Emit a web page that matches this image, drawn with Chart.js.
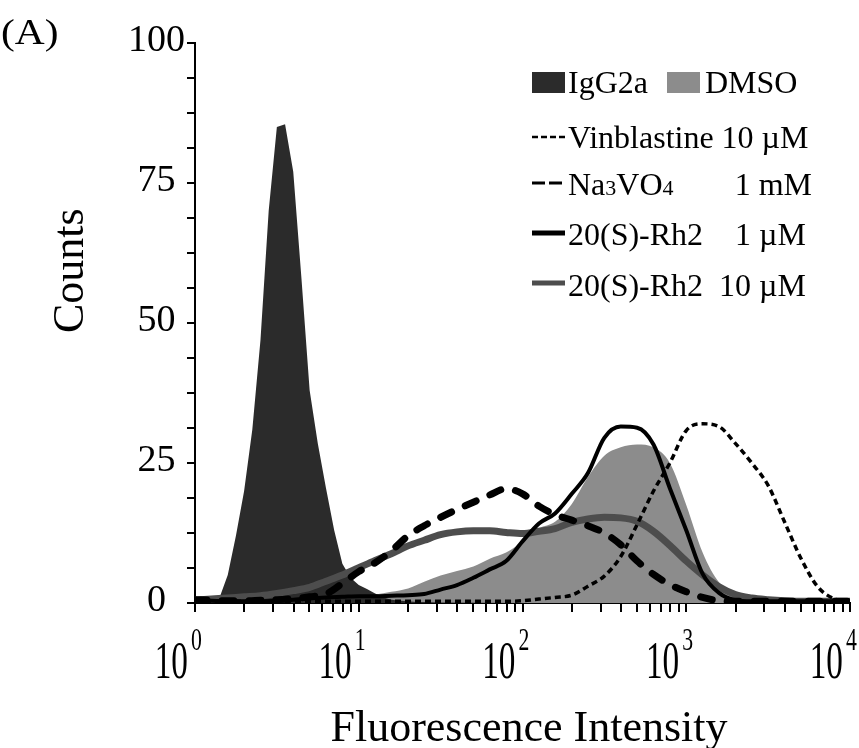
<!DOCTYPE html>
<html>
<head>
<meta charset="utf-8">
<script src="https://cdn.jsdelivr.net/npm/chart.js@4.4.1/dist/chart.umd.min.js"></script>
<style>
  html, body { margin: 0; padding: 0; background: #fff; }
</style>
</head>
<body>
<canvas id="grafica" width="859" height="748"></canvas>
<script>
// eje x comun (0.1 decadas)
const intensidad = [1, 1.26, 1.58, 2.00, 2.51, 3.16, 3.98, 5.01, 6.31, 7.94,
  10, 12.6, 15.8, 20.0, 25.1, 31.6, 39.8, 50.1, 63.1, 79.4,
  100, 126, 158, 200, 251, 316, 398, 501, 631, 794,
  1000, 1259, 1585, 1995, 2512, 3162, 3981, 5012, 6310, 7943, 10000];

const dmso = [0.4, 0.4, 0.4, 0.4, 0.4, 0.5, 0.5, 0.6, 0.7, 0.8,
  1.0, 1.5, 2.0, 2.6, 3.8, 4.9, 5.7, 6.5, 7.9, 9.0,
  11.0, 13.3, 14.5, 17.7, 22.5, 26.3, 27.8, 28.3, 27.8, 25.0,
  17.5, 9.0, 3.7, 1.8, 1.0, 0.5, 0.4, 0.4, 0.3, 0.3, 0.3];

const vinblastina = [0.3, 0.3, 0.3, 0.3, 0.3, 0.3, 0.3, 0.3, 0.3, 0.3,
  0.3, 0.3, 0.3, 0.3, 0.3, 0.3, 0.3, 0.3, 0.3, 0.3,
  0.4, 0.7, 1.0, 1.4, 3.0, 4.8, 8.3, 14.0, 20.0, 25.0,
  30.8, 32.0, 31.5, 28.5, 25.0, 21.0, 14.5, 8.0, 3.0, 0.8, 0.3];

const na3vo4 = [0.6, 0.5, 0.4, 0.4, 0.5, 0.6, 0.8, 1.1, 1.6, 3.5,
  5.6, 7.2, 9.3, 12.0, 13.8, 15.3, 16.7, 18.0, 19.3, 20.4,
  19.5, 17.3, 15.8, 14.8, 13.8, 12.5, 10.4, 7.5, 5.1, 3.3,
  2.0, 1.0, 0.4, 0.3, 0.3, 0.3, 0.3, 0.3, 0.3, 0.3, 0.3];

const rh2_1 = [0.5, 0.4, 0.3, 0.3, 0.3, 0.4, 0.6, 0.8, 1.0, 1.1,
  1.2, 1.2, 1.3, 1.4, 1.6, 2.4, 3.2, 4.5, 6.0, 7.5,
  11.0, 14.2, 16.0, 19.5, 23.2, 29.5, 31.5, 31.3, 28.3, 20.5,
  13.0, 5.2, 1.8, 0.5, 0.3, 0.3, 0.3, 0.3, 0.3, 0.3, 0.3];

const rh2_10 = [0.5, 0.7, 0.9, 1.1, 1.3, 1.7, 2.2, 2.8, 3.9, 5.0,
  6.3, 7.6, 8.8, 10.2, 11.2, 12.2, 12.7, 12.9, 12.9, 12.6,
  12.4, 12.8, 13.3, 14.4, 15.0, 15.3, 15.2, 14.6, 12.8, 10.3,
  7.5, 5.0, 2.9, 1.5, 0.9, 0.6, 0.4, 0.3, 0.3, 0.3, 0.3];

// IgG2a es muy estrecho, va con su propia rejilla (0.05 decadas)
const intensidadIgG = [1, 1.122, 1.259, 1.413, 1.585, 1.778, 1.995, 2.239, 2.512, 2.818,
  3.162, 3.548, 3.981, 4.467, 5.012, 5.623, 6.310, 7.079, 7.943, 8.913,
  10, 11.22, 12.59, 14.13, 15.85, 17.78, 19.95, 22.39, 25.12, 31.62, 100, 1000, 10000];
const igg2a = [1.2, 0.8, 0.7, 1.0, 5.0, 12.0, 20.0, 31.0, 47.0, 70.0,
  85.0, 85.5, 77.0, 58.0, 38.0, 28.5, 20.5, 13.0, 7.0, 4.5,
  3.2, 2.5, 1.7, 1.0, 0.6, 0.4, 0.3, 0.2, 0.2, 0.1, 0, 0, 0];

const ticksY = [0, 6.25, 12.5, 18.75, 25, 31.25, 37.5, 43.75, 50, 56.25, 62.5, 68.75, 75, 81.25, 87.5, 93.75, 100];
const ticksX = [1, 2, 3, 4, 5, 6, 7, 8, 9, 10, 20, 30, 40, 50, 60, 70, 80, 90,
  100, 200, 300, 400, 500, 600, 700, 800, 900, 1000, 2000, 3000, 4000, 5000, 6000, 7000, 8000, 9000, 10000];
const decadas = [1, 10, 100, 1000, 10000];
const exponentes = ["0", "1", "2", "3", "4"];

const fuente = '"Liberation Serif", "Times New Roman", serif';

function puntos(xs, ys) {
    return xs.map((x, i) => ({ x: x, y: ys[i] }));
}

function linea(ctx, y, color, ancho, guion) {
    ctx.save();
    ctx.strokeStyle = color;
    ctx.lineWidth = ancho;
    ctx.setLineDash(guion);
    ctx.beginPath();
    ctx.moveTo(532, y);
    ctx.lineTo(565, y);
    ctx.stroke();
    ctx.restore();
}

// textos: etiquetas 10^n, titulos, (A) y leyenda
const textos = {
    id: "textos",
    afterDraw(chart) {
        const ctx = chart.ctx;
        const ejeX = chart.scales.x;
        ctx.save();
        ctx.fillStyle = "#000";
        ctx.textBaseline = "alphabetic";

        decadas.forEach((v, i) => {
            const px = ejeX.getPixelForValue(v);
            ctx.save();
            ctx.translate(px - 7, 678);
            ctx.scale(0.64, 1);
            ctx.font = "52px " + fuente;
            ctx.textAlign = "right";
            ctx.fillText("10", 0, 0);
            ctx.restore();
            ctx.save();
            ctx.translate(px - 4, 650);
            ctx.scale(0.68, 1);
            ctx.font = "32px " + fuente;
            ctx.textAlign = "left";
            ctx.fillText(exponentes[i], 0, 0);
            ctx.restore();
        });

        ctx.font = "44px " + fuente;
        ctx.textAlign = "center";
        ctx.fillText("Fluorescence Intensity", 529, 741);

        ctx.save();
        ctx.translate(83, 333);
        ctx.rotate(-Math.PI / 2);
        ctx.textAlign = "left";
        ctx.fillText("Counts", 0, 0);
        ctx.restore();

        ctx.save();
        ctx.translate(1, 44);
        ctx.scale(1.15, 1);
        ctx.font = "36px " + fuente;
        ctx.textAlign = "left";
        ctx.fillText("(A)", 0, 0);
        ctx.restore();

        // leyenda
        ctx.font = "32px " + fuente;
        ctx.textAlign = "left";
        ctx.fillStyle = "#2b2b2b";
        ctx.fillRect(532, 72, 33, 21);
        ctx.fillStyle = "#8c8c8c";
        ctx.fillRect(667, 72, 33, 21);
        ctx.fillStyle = "#000";
        ctx.fillText("IgG2a", 568, 93);
        ctx.fillText("DMSO", 705, 93);

        linea(ctx, 137, "#000", 2.5, [6, 3]);
        ctx.fillText("Vinblastine 10 \u00b5M", 568, 148);

        linea(ctx, 183, "#000", 3, [13, 4]);
        let xx = 568;
        [["Na", 32], ["3", 22], ["VO", 32], ["4", 22]].forEach(p => {
            ctx.font = p[1] + "px " + fuente;
            ctx.fillText(p[0], xx, 195);
            xx += ctx.measureText(p[0]).width;
        });
        ctx.font = "32px " + fuente;
        ctx.textAlign = "right";
        ctx.fillText("1 mM", 812, 195);

        linea(ctx, 233, "#000", 5, []);
        ctx.textAlign = "left";
        ctx.fillText("20(S)-Rh2", 568, 245);
        ctx.textAlign = "right";
        ctx.fillText("1 \u00b5M", 806, 245);

        linea(ctx, 283, "#4d4d4d", 5, []);
        ctx.textAlign = "left";
        ctx.fillText("20(S)-Rh2", 568, 296);
        ctx.textAlign = "right";
        ctx.fillText("10 \u00b5M", 806, 296);

        ctx.restore();
    }
};

const ctx = document.getElementById("grafica").getContext("2d");
new Chart(ctx, {
    type: "line",
    data: {
        datasets: [
            {
                label: "20(S)-Rh2 1 \u00b5M",
                data: puntos(intensidad, rh2_1),
                borderColor: "#000",
                borderWidth: 4,
                cubicInterpolationMode: "monotone",
                fill: false
            },
            {
                label: "Vinblastine 10 \u00b5M",
                data: puntos(intensidad, vinblastina),
                borderColor: "#000",
                borderWidth: 3.5,
                borderDash: [6, 4],
                cubicInterpolationMode: "monotone",
                fill: false
            },
            {
                label: "Na3VO4 1 mM",
                data: puntos(intensidad, na3vo4),
                borderColor: "#000",
                borderWidth: 7,
                borderDash: [12, 15],
                borderCapStyle: "round",
                cubicInterpolationMode: "monotone",
                fill: false
            },
            {
                label: "20(S)-Rh2 10 \u00b5M",
                data: puntos(intensidad, rh2_10),
                borderColor: "#4d4d4d",
                borderWidth: 7,
                cubicInterpolationMode: "monotone",
                fill: false
            },
            {
                label: "IgG2a",
                data: puntos(intensidadIgG, igg2a),
                borderWidth: 0,
                borderColor: "#2b2b2b",
                backgroundColor: "#2b2b2b",
                tension: 0,
                fill: "origin"
            },
            {
                label: "DMSO",
                data: puntos(intensidad, dmso),
                borderWidth: 0,
                borderColor: "#8c8c8c",
                backgroundColor: "#8c8c8c",
                cubicInterpolationMode: "monotone",
                fill: "origin"
            }
        ]
    },
    options: {
        responsive: false,
        animation: false,
        devicePixelRatio: 1,
        layout: { padding: { top: 43, right: 9, left: 0, bottom: 0 } },
        elements: { point: { radius: 0 } },
        plugins: {
            legend: { display: false },
            tooltip: { enabled: false }
        },
        scales: {
            x: {
                type: "logarithmic",
                min: 1,
                max: 10000,
                afterBuildTicks: s => { s.ticks = ticksX.map(v => ({ value: v })); },
                afterFit: s => { s.height = 145; s.paddingLeft = 0; s.paddingRight = 0; },
                ticks: { callback: () => "", autoSkip: false, maxRotation: 0 },
                grid: { drawOnChartArea: false, tickLength: 9, color: "#000", lineWidth: 2 },
                border: { color: "#000", width: 2 }
            },
            y: {
                min: 0,
                max: 100,
                afterBuildTicks: s => { s.ticks = ticksY.map(v => ({ value: v })); },
                afterFit: s => { s.width = 195; },
                ticks: {
                    callback: v => (v % 25 === 0 ? v : ""),
                    autoSkip: false,
                    color: "#000",
                    font: { family: fuente, size: 38 },
                    crossAlign: "center",
                    padding: 2,
                    labelOffset: -2
                },
                grid: { drawOnChartArea: false, tickLength: 8, color: "#000", lineWidth: 2 },
                border: { color: "#000", width: 2 }
            }
        }
    },
    plugins: [textos]
});
</script>
</body>
</html>
